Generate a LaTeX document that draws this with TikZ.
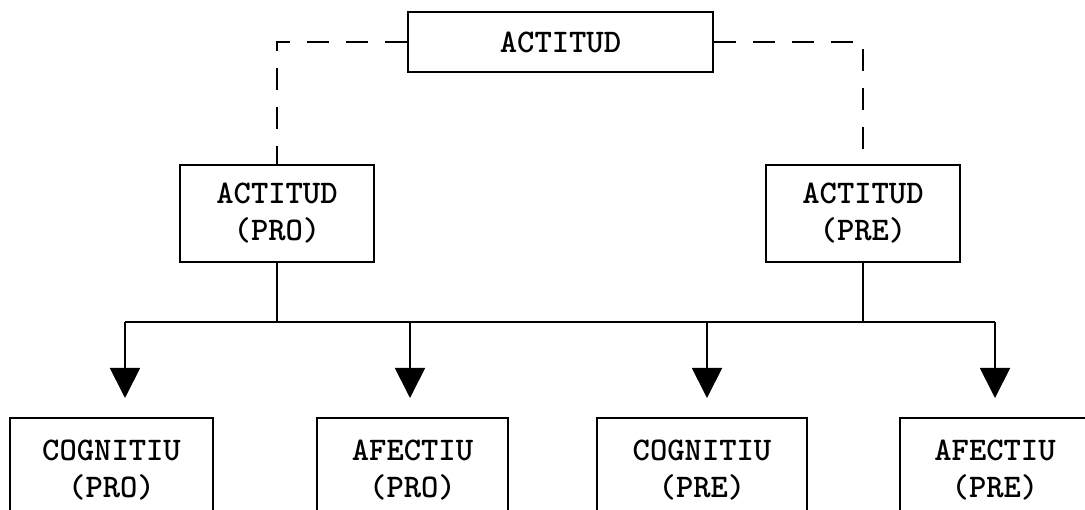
\documentclass[tikz,border=0pt]{standalone}
\usepackage{fontspec}
\usetikzlibrary{arrows.meta}
\begin{document}
\begin{tikzpicture}[x=1pt,y=-1pt,
  every node/.style={font=\ttfamily\bfseries\fontsize{33}{37}\selectfont},
  box/.style={draw,line width=1.8pt,align=center,inner sep=0pt},
  link/.style={line width=1.8pt},
  dashlink/.style={line width=1.8pt,dash pattern=on 22pt off 17pt},
  arr/.style={line width=1.8pt,-{Triangle[length=30pt,width=30pt]}}]
\useasboundingbox (0,0) rectangle (1085,510);
\clip (0,0) rectangle (1085,510);
% top level
\node[box,minimum width=305,minimum height=60] (top) at (560.5,42) {ACTITUD};
% second level
\node[box,minimum width=194,minimum height=97] (pro) at (277,213.5) {ACTITUD\\(PRO)};
\node[box,minimum width=194,minimum height=97] (pre) at (863,213.5) {ACTITUD\\(PRE)};
% third level
\node[box,minimum width=203,minimum height=104] (cpro) at (111.5,470) {COGNITIU\\(PRO)};
\node[box,minimum width=191,minimum height=104] (apro) at (412.5,470) {AFECTIU\\(PRO)};
\node[box,minimum width=210,minimum height=104] (cpre) at (702,470) {COGNITIU\\(PRE)};
\node[box,minimum width=190,minimum height=104] (apre) at (995,470) {AFECTIU\\(PRE)};
% dashed links from the top box
\draw[dashlink] (top.west) -| (pro.north);
\draw[dashlink] (top.east) -| (pre.north);
% distribution bus
\coordinate (busL) at (125,322);
\coordinate (busR) at (995,322);
\coordinate (b1) at (125,322);
\coordinate (b2) at (410,322);
\coordinate (b3) at (707,322);
\coordinate (b4) at (995,322);
\coordinate (t1) at (125,398);
\coordinate (t2) at (410,398);
\coordinate (t3) at (707,398);
\coordinate (t4) at (995,398);
\draw[link] (pro.south) -- (pro.south |- busL);
\draw[link] (pre.south) -- (pre.south |- busR);
\draw[link] (busL) -- (busR);
\draw[arr] (b1) -- (t1);
\draw[arr] (b2) -- (t2);
\draw[arr] (b3) -- (t3);
\draw[arr] (b4) -- (t4);
\end{tikzpicture}
\end{document}
